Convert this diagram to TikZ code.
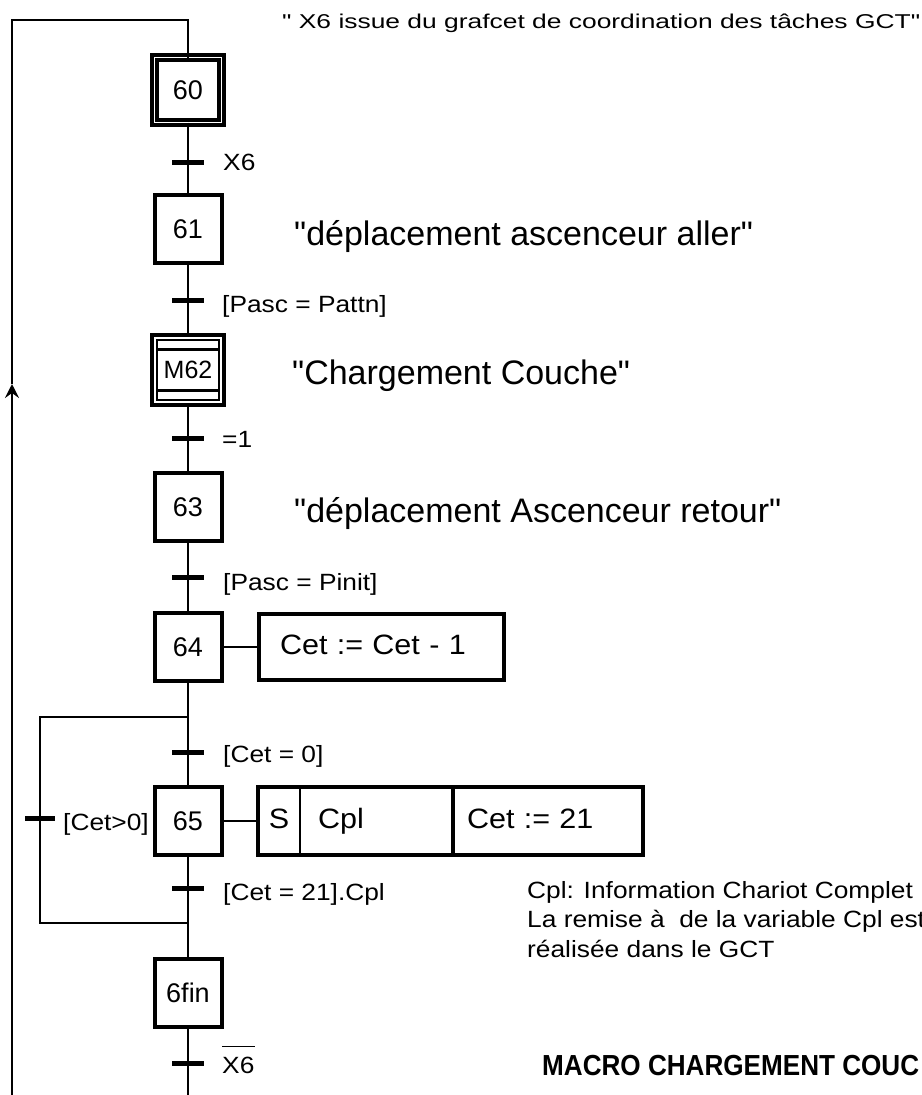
\documentclass[tikz,border=0pt]{standalone}
\usepackage{fontspec}
\setmainfont{Liberation Sans}
\newfontfamily\fplain{Liberation Sans}
\newfontfamily\ftr[FakeStretch=1.12]{Liberation Sans}
\newfontfamily\ftop[FakeStretch=1.32]{Liberation Sans}
\newfontfamily\fact[FakeStretch=1.09]{Liberation Sans}
\newfontfamily\fmacro[FakeStretch=0.9]{Liberation Sans}
\usetikzlibrary{arrows.meta}
\begin{document}
\begin{tikzpicture}[x=1pt,y=-1pt,
  link/.style={line width=2pt},
  stepbox/.style={draw, line width=4pt, minimum width=67pt, minimum height=68pt,
    inner sep=0pt, outer sep=0pt, font=\fplain\fontsize{27}{30}\selectfont},
  tbar/.style={fill=black, minimum width=32pt, minimum height=5pt, inner sep=0pt, outer sep=0pt},
  tlabel/.style={anchor=base west, inner sep=0pt, font=\ftr\fontsize{23.5}{28}\selectfont},
  comment/.style={anchor=base west, inner sep=0pt, font=\fplain\fontsize{34}{40}\selectfont},
  note/.style={anchor=base west, inner sep=0pt, font=\ftr\fontsize{23.5}{28}\selectfont},
  actcell/.style={inner ysep=0pt, outer sep=0pt, minimum height=68pt,
    text height=20pt, text depth=6pt, font=\fact\fontsize{28}{32}\selectfont},
  thickline/.style={line width=4pt}
]
\useasboundingbox (0,0) rectangle (921,1095);

% steps
\node[stepbox, double, double distance=1.2pt, minimum width=67pt, minimum height=65pt] (s60) at (188,90) {60};
\node[stepbox] (s61) at (188,229) {61};
\node[stepbox, minimum width=72pt, minimum height=70pt, font=\fplain\fontsize{25}{28}\selectfont] (s62) at (188,370) {M62};
\node[stepbox] (s63) at (188,507) {63};
\node[stepbox] (s64) at (188,647) {64};
\node[stepbox] (s65) at (188,821) {65};
\node[stepbox] (s6fin) at (188,993) {6fin};

% macro-step decoration
\draw[line width=1.5pt] ([shift={(5,5)}]s62.north west) rectangle ([shift={(-5,-5)}]s62.south east);
\draw[line width=3pt] ([shift={(5,14)}]s62.north west) -- ([shift={(-5,14)}]s62.north east);
\draw[line width=3pt] ([shift={(5,-15)}]s62.south west) -- ([shift={(-5,-15)}]s62.south east);

% transitions
\node[tbar] (t0) at (188,162) {};
\node[tbar] (t1) at (188,300) {};
\node[tbar] (t2) at (188,438) {};
\node[tbar] (t3) at (188,577) {};
\node[tbar] (t4) at (188,752) {};
\node[tbar] (t5) at (188,888) {};
\node[tbar] (t6) at (188,1063) {};
\node[tbar, minimum width=30pt] (tL) at (40,818) {};

% coordinates
\coordinate (j1) at (188,717);
\coordinate (jl1) at (40,717);
\coordinate (jl2) at (40,923);
\coordinate (j2) at (188,923);
\coordinate (b1) at (188,1095);
\coordinate (b2) at (12,1095);
\coordinate (la) at (12,384);
\coordinate (lt) at (12,20);
\coordinate (tt) at (188,20);

% main links
\draw[link] (s60) -- (s61);
\draw[link] (s61) -- (s62);
\draw[link] (s62) -- (s63);
\draw[link] (s63) -- (s64);
\draw[link] (s64.south) -- (j1) -- (s65.north);
\draw[link] (s65.south) -- (j2) -- (s6fin.north);
\draw[link] (s6fin.south) -- (b1);
\draw[link] (j2) -- (jl2) -- (jl1) -- (j1);
\draw[link, -{Stealth[length=14pt,width=14pt,inset=5pt]}] (b2) -- (la);
\draw[link] (la) -- (lt) -- (tt) -- (s60.north);

% transition labels
\node[tlabel] (l0) at (223,170) {X6};
\node[tlabel] (l1) at (222,312) {[Pasc = Pattn]};
\node[tlabel] (l2) at (222,447) {=1};
\node[tlabel] (l3) at (223,590) {[Pasc = Pinit]};
\node[tlabel] (l4) at (223,762) {[Cet = 0]};
\node[tlabel] (l5) at (223,900) {[Cet = 21].Cpl};
\node[tlabel] (l6) at (222,1073) {X6};
\draw[line width=1.6pt] ([yshift=10pt]l6.north west) -- ([yshift=10pt]l6.north east);
\node[tlabel] (lL) at (63,830) {[Cet>0]};

% actions
\node[draw, thickline, outer sep=0pt, minimum height=66pt, text width=203pt, inner xsep=21pt,
  text height=20pt, text depth=6pt,
  align=left, font=\fact\fontsize{28}{32}\selectfont] (a64) at (381.5,647) {Cet := Cet - 1};
\draw[link] (s64.east) -- (a64.west);

\node[actcell, minimum width=42pt, inner xsep=0pt] (aS) at (279,821) {S};
\node[actcell, text width=117pt, inner xsep=18pt, align=left] (aC) at (376.5,821) {Cpl};
\node[actcell, text width=162pt, inner xsep=14pt, align=left] (aE) at (548,821) {Cet := 21};
\draw[thickline] (aS.north west) rectangle (aC.south east);
\draw[line width=1.8pt] (aS.north east) -- (aS.south east);
\draw[thickline] (aE.north west) rectangle (aE.south east);
\draw[link] (s65.east) -- (aS.west);

% comments
\node[anchor=base west, inner sep=0pt, font=\ftop\fontsize{20}{24}\selectfont] (ctop) at (282,28)
  {" X6 issue du grafcet de coordination des tâches GCT"};
\node[comment] (c61) at (294,245) {"déplacement ascenceur aller"};
\node[comment] (c62) at (292,384) {"Chargement Couche"};
\node[comment] (c63) at (294,522) {"déplacement Ascenceur retour"};
\node[note] (n1) at (527,898) {Cpl: Information Chariot Complet};
\node[note] (n2) at (527,927) {La remise à\ \ de la variable Cpl est};
\node[note] (n3) at (527,957) {réalisée dans le GCT};
\node[anchor=base west, inner sep=0pt, font=\fmacro\bfseries\fontsize{29}{34}\selectfont] (mac) at (542,1075)
  {MACRO CHARGEMENT COUC};
\end{tikzpicture}
\end{document}
